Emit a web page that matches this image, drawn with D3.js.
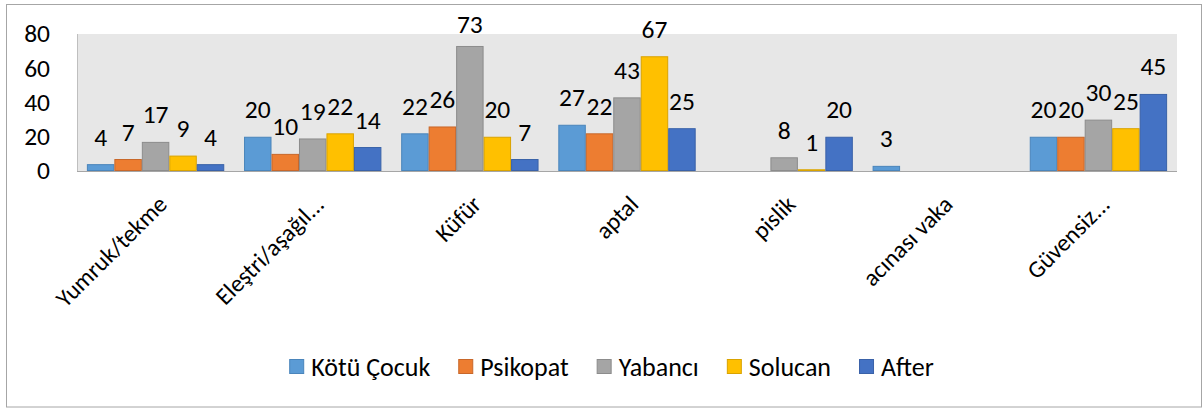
<!DOCTYPE html>
<html>
<head>
<meta charset="utf-8">
<script src="https://cdn.jsdelivr.net/npm/d3@7"></script>
<style>
  body{margin:0;background:#fff;}
  svg text{font-family:Carlito,Lato,"Open Sans",sans-serif;fill:#000;}
</style>
</head>
<body>
<svg id="chart" width="1202" height="409"></svg>
<script>
var categories=['Yumruk/tekme','Eleştri/aşağıl...','Küfür','aptal','pislik','acınası vaka','Güvensiz...'];
var seriesNames=['Kötü Çocuk','Psikopat','Yabancı','Solucan','After'];
// one array per series, null = no bar
var kotuCocuk=[4,20,22,27,null,3,20];
var psikopat=[7,10,26,22,null,null,20];
var yabanci=[17,19,73,43,8,null,30];
var solucan=[9,22,20,67,1,null,25];
var after=[4,14,7,25,20,null,45];
var yTicks=[0,20,40,60,80];

var seriesValues=[kotuCocuk,psikopat,yabanci,solucan,after];
var fills=['#5b9bd5','#ed7d31','#a5a5a5','#ffc000','#4472c4'];
var strokes=['#4a85bb','#c8672a','#8c8c8c','#d9a300','#3a62a8'];

var svg=d3.select('#chart');
var numSize=25.5, catSize=24, legSize=26;

//outer frame
svg.append('rect')
  .attr('x',6.5).attr('y',4.5)
  .attr('width',1195).attr('height',402.5)
  .attr('fill','#fff').attr('stroke','#a6a6a6').attr('stroke-width',1);

var pLeft=77,pRight=1177,pTop=34,pBottom=171;
var x=d3.scaleBand().domain(categories).range([pLeft,pRight]).paddingInner(0).paddingOuter(0);
var xs=d3.scaleBand().domain(d3.range(seriesNames.length)).range([0,x.bandwidth()]).paddingInner(0).paddingOuter(0.36);
var y=d3.scaleLinear().domain([0,80]).range([pBottom,pTop]);

//plot background
svg.append('rect')
  .attr('x',pLeft).attr('y',pTop)
  .attr('width',pRight-pLeft).attr('height',pBottom-pTop)
  .attr('fill','#e7e7e7');

//value axis line
svg.append('line')
  .attr('x1',pLeft+0.5).attr('x2',pLeft+0.5)
  .attr('y1',pTop).attr('y2',pBottom)
  .attr('stroke','#bfbfbf');

//bars
var groups=svg.selectAll('.grp')
  .data(categories)
  .enter().append('g')
  .attr('class','grp')
  .attr('transform',function(d){return 'translate('+x(d)+',0)';});

groups.each(function(cat,ci){
  var g=d3.select(this);
  seriesValues.forEach(function(vals,si){
    var v=vals[ci];
    if(v==null) return;
    g.append('rect')
      .attr('x',xs(si)+0.5)
      .attr('y',y(v)+0.5)
      .attr('width',xs.bandwidth()-1)
      .attr('height',Math.max(0,y(0)-y(v)-1))
      .attr('fill',fills[si])
      .attr('stroke',strokes[si])
      .attr('stroke-width',1);
  });
});

//category axis line
svg.append('line')
  .attr('x1',pLeft).attr('x2',pRight)
  .attr('y1',pBottom+0.5).attr('y2',pBottom+0.5)
  .attr('stroke','#a6a6a6');

//data labels
groups.each(function(cat,ci){
  var g=d3.select(this);
  seriesValues.forEach(function(vals,si){
    var v=vals[ci];
    if(v==null) return;
    g.append('text')
      .attr('x',xs(si)+xs.bandwidth()/2)
      .attr('y',Math.max(y(v)-18.5,33))
      .attr('text-anchor','middle')
      .style('font-size',numSize+'px')
      .text(v);
  });
});

//y tick labels
svg.selectAll('.ytick')
  .data(yTicks)
  .enter().append('text')
  .attr('class','ytick')
  .attr('x',50)
  .attr('y',function(d){return y(d);})
  .attr('dy','0.33em')
  .attr('text-anchor','end')
  .style('font-size',numSize+'px')
  .text(function(d){return d;});

//category labels, rotated
svg.selectAll('.xlab')
  .data(categories)
  .enter().append('text')
  .attr('class','xlab')
  .attr('transform',function(d){return 'translate('+(x(d)+x.bandwidth()/2+2)+',195) rotate(-45)';})
  .attr('dy','0.64em')
  .attr('text-anchor','end')
  .style('font-size',catSize+'px')
  .text(function(d){return d;});

//legend
var leg=svg.append('g');
var cx=0;
seriesNames.forEach(function(n,i){
  var it=leg.append('g').attr('transform','translate('+cx+',0)');
  it.append('rect')
    .attr('x',0.5).attr('y',359.5)
    .attr('width',14).attr('height',14)
    .attr('fill',fills[i]).attr('stroke',strokes[i]);
  var t=it.append('text')
    .attr('x',22).attr('y',367)
    .attr('dy','0.33em')
    .style('font-size',legSize+'px')
    .text(n);
  var w=t.node().getComputedTextLength();
  cx+=22+w+(i<seriesNames.length-1?28:0);
});
leg.attr('transform','translate('+(611.5-cx/2)+',0)');
</script>
</body>
</html>
